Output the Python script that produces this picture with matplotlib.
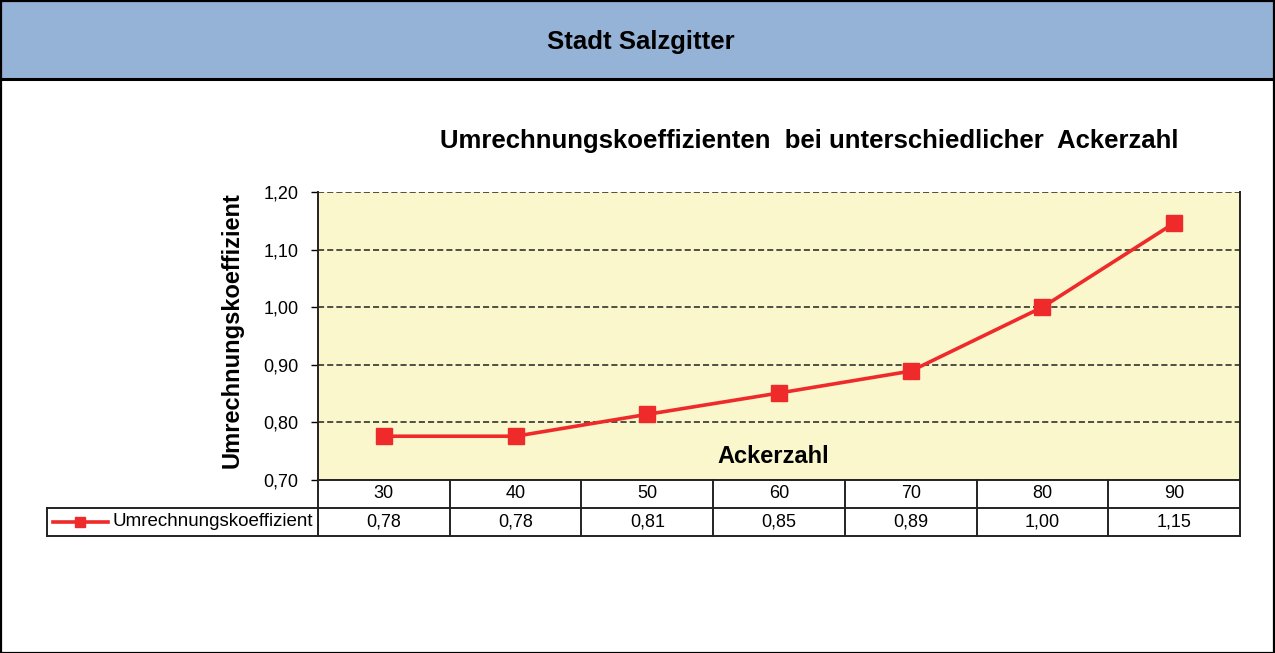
import matplotlib.pyplot as plt
from matplotlib.patches import Rectangle
from matplotlib.lines import Line2D

plt.rcParams['font.family'] = ['Liberation Sans', 'DejaVu Sans']

# data
ackerzahl = ['30', '40', '50', '60', '70', '80', '90']
koeffizient = [0.776, 0.776, 0.814, 0.851, 0.889, 1.0, 1.146]
y_ticks = [0.70, 0.80, 0.90, 1.00, 1.10, 1.20]

W, H = 1275, 653
fig = plt.figure(figsize=(W / 100, H / 100), dpi=100)


def px_axes(x0, y0, x1, y1, **kw):
    # axes from pixel box (top-left origin)
    return fig.add_axes([x0 / W, 1 - y1 / H, (x1 - x0) / W, (y1 - y0) / H], **kw)


# header band
fig.patches.append(Rectangle((0, 1 - 79 / H), 1, 79 / H, transform=fig.transFigure,
                             facecolor='#95B3D7', edgecolor='none', zorder=0))
fig.lines.append(Line2D([0, 1], [1 - 79 / H, 1 - 79 / H], transform=fig.transFigure,
                        color='black', lw=2.2))
fig.patches.append(Rectangle((0.001, 0.0), 0.998, 0.999, transform=fig.transFigure,
                             facecolor='none', edgecolor='black', lw=1.6, zorder=5))
fig.text(641 / W, 1 - 42 / H, 'Stadt Salzgitter', ha='center', va='center',
         fontsize=18.5, fontweight='bold')

# main plot
ax = px_axes(318, 192, 1240, 480)
ax.set_facecolor('#FAF7CD')
x = list(range(len(ackerzahl)))
ax.plot(x, koeffizient, color='#EE2A2A', lw=2.6, marker='s', markersize=11,
        markeredgecolor='#EE2A2A', zorder=3)
ax.set_xlim(-0.5, len(ackerzahl) - 0.5)
ax.set_ylim(0.70, 1.20)
ax.set_yticks(y_ticks)
ax.set_yticklabels([f'{v:.2f}'.replace('.', ',') for v in y_ticks], fontsize=13)
ax.set_xticks([])
ax.tick_params(axis='y', direction='out', length=5, width=1, pad=9)
for v in y_ticks[1:]:
    ax.axhline(v, color='#222222', lw=1.1, ls=(0, (4, 2)), zorder=1)
for side in ['left', 'right', 'bottom']:
    ax.spines[side].set_linewidth(1.4)
    ax.spines[side].set_color('#222222')
ax.spines['top'].set_visible(False)
ax.set_ylabel('Umrechnungskoeffizient', fontsize=17, fontweight='bold', labelpad=14)
ax.yaxis.label.set_y(0.52)
ax.text((773 - 318) / 922, 0.04, 'Ackerzahl', transform=ax.transAxes, ha='center',
        va='bottom', fontsize=17, fontweight='bold')
fig.text(809 / W, 1 - 141 / H,
         'Umrechnungskoeffizienten  bei unterschiedlicher  Ackerzahl',
         ha='center', va='center', fontsize=18.5, fontweight='bold')

# data table
tax = px_axes(318, 480, 1240, 536)
tax.set_xlim(-0.5, len(ackerzahl) - 0.5)
tax.set_ylim(0, 2)
tax.axis('off')
for i in range(len(ackerzahl) + 1):
    tax.plot([i - 0.5, i - 0.5], [0, 2], color='#222222', lw=1.4, clip_on=False)
tax.plot([-0.5, len(ackerzahl) - 0.5], [1, 1], color='#222222', lw=1.4)
tax.plot([-0.5, len(ackerzahl) - 0.5], [0, 0], color='#222222', lw=1.4, clip_on=False)
for i, (lab, v) in enumerate(zip(ackerzahl, koeffizient)):
    tax.text(i, 1.5, lab, ha='center', va='center', fontsize=13)
    tax.text(i, 0.5, f'{v:.2f}'.replace('.', ','), ha='center', va='center', fontsize=13)

# legend cell
lax = px_axes(47, 508, 318, 536)
lax.set_xlim(0, 271)
lax.set_ylim(0, 1)
lax.set_xticks([])
lax.set_yticks([])
for s in lax.spines.values():
    s.set_linewidth(1.4)
    s.set_color('#222222')
lax.plot([6, 61], [0.5, 0.5], color='#EE2A2A', lw=2.6)
lax.plot([33], [0.5], color='#EE2A2A', marker='s', markersize=7)
lax.text(65, 0.5, 'Umrechnungskoeffizient', ha='left', va='center', fontsize=13.5)

fig.savefig('out.png', dpi=100)
